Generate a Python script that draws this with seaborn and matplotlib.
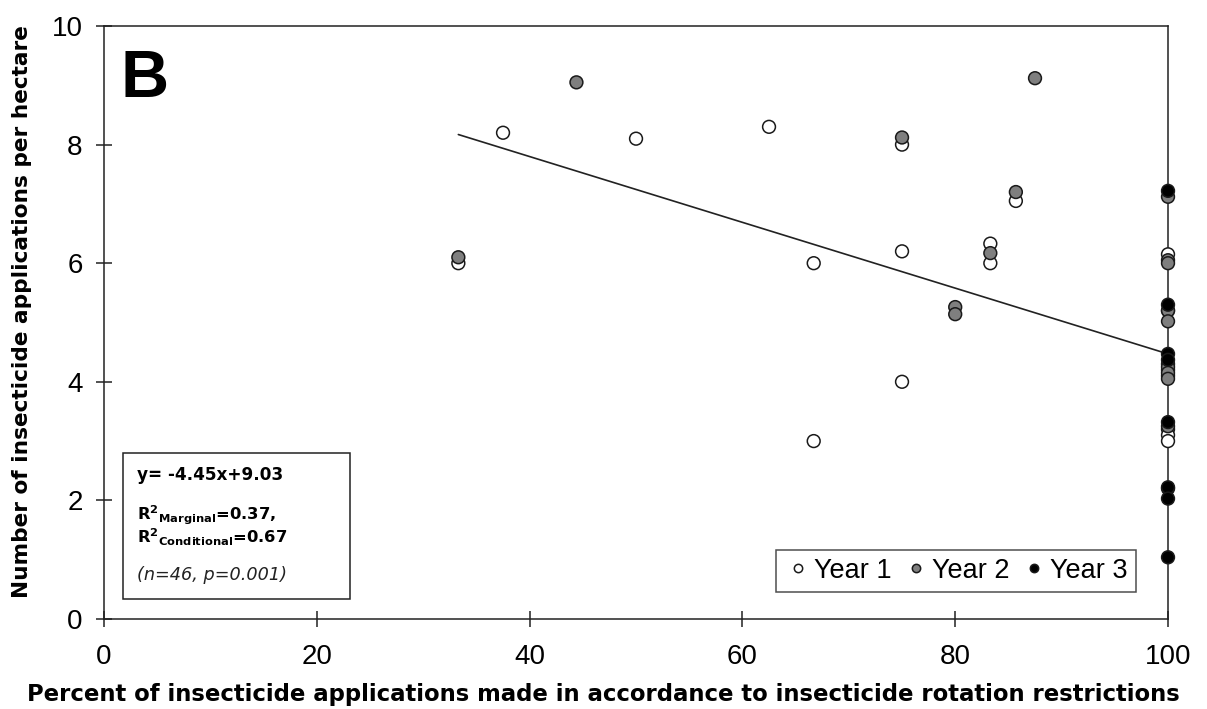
import pandas as pd
import matplotlib.pyplot as plt
import seaborn as sns
from matplotlib.patches import Rectangle

# percent of applications in accordance with rotation restrictions / applications per hectare
year1_x = [33.3, 37.5, 50, 62.5, 66.7, 66.7, 75, 75, 75, 83.3, 83.3, 85.7,
           100, 100, 100, 100, 100, 100, 100, 100]
year1_y = [6.0, 8.2, 8.1, 8.3, 6.0, 3.0, 8.0, 6.2, 4.0, 6.33, 6.0, 7.05,
           6.15, 5.2, 4.3, 4.1, 3.2, 3.1, 3.0, 4.2]
year2_x = [33.3, 44.4, 75, 80, 80, 83.3, 85.7, 87.5,
           100, 100, 100, 100, 100, 100, 100, 100, 100, 100]
year2_y = [6.1, 9.05, 8.12, 5.26, 5.14, 6.17, 7.2, 9.12,
           7.12, 6.05, 5.2, 5.02, 4.25, 4.15, 4.05, 3.25, 2.2, 6.0]
year3_x = [100, 100, 100, 100, 100, 100, 100, 100]
year3_y = [7.22, 5.3, 4.47, 4.37, 3.32, 2.22, 2.03, 1.04]

# fitted line endpoints as drawn
line_x = [33.3, 100]
line_y = [8.17, 4.47]

df = pd.DataFrame({
    "x": year1_x + year2_x + year3_x,
    "y": year1_y + year2_y + year3_y,
    "year": ["Year 1"] * len(year1_x) + ["Year 2"] * len(year2_x) + ["Year 3"] * len(year3_x),
})

sns.set_style("ticks")
plt.rcParams["font.family"] = ["Liberation Sans", "DejaVu Sans"]
plt.rcParams["mathtext.fontset"] = "dejavusans"
plt.rcParams["text.color"] = "black"
plt.rcParams["axes.labelcolor"] = "black"

fig = plt.figure(figsize=(12.07, 7.09), dpi=100)
ax = fig.add_axes([0.0862, 0.127, 0.8815, 0.8363])

palette = {"Year 1": "white", "Year 2": "#7f7f7f", "Year 3": "black"}
sns.scatterplot(data=df, x="x", y="y", hue="year", palette=palette, s=85,
                edgecolor="#1a1a1a", linewidth=1.1, ax=ax, zorder=3)
ax.collections[0].set_clip_on(False)

sns.lineplot(x=line_x, y=line_y, color="#222222", linewidth=1.2, ax=ax, zorder=2)

ax.set_xlim(0, 100)
ax.set_ylim(0, 10)
ax.set_xticks([0, 20, 40, 60, 80, 100])
ax.set_yticks([0, 2, 4, 6, 8, 10])
for s in ax.spines.values():
    s.set_linewidth(1.1)
    s.set_color("#222222")
ax.tick_params(direction="inout", length=12, width=1.1, labelsize=20,
               color="#222222", labelcolor="black")
ax.tick_params(axis="x", pad=12)
ax.tick_params(axis="y", pad=9.5)

lab_font = {"family": "DejaVu Sans", "weight": "bold"}
ax.set_xlabel("Percent of insecticide applications made in accordance to insecticide rotation restrictions",
              fontsize=16.4, fontdict=lab_font)
ax.set_ylabel("Number of insecticide applications per hectare",
              fontsize=15.6, fontdict=lab_font)
ax.xaxis.set_label_coords(0.469, -0.108)
ax.yaxis.set_label_coords(-0.068, 0.519)

ax.text(0.015, 0.88, "B", transform=ax.transAxes, fontsize=48, fontweight="bold",
        va="baseline", ha="left")

# stats box
ax.add_patch(Rectangle((0.018, 0.034), 0.2132, 0.246, transform=ax.transAxes,
                       fill=False, edgecolor="#222222", linewidth=1.1, zorder=4))
ax.text(0.031, 0.234, "y= -4.45x+9.03", transform=ax.transAxes, fontsize=12.2,
        fontdict=lab_font, va="baseline")
ax.text(0.031, 0.167, r"$\mathbf{R^{2}{}_{Marginal}}$=0.37,", transform=ax.transAxes,
        fontsize=11.8, fontdict=lab_font, va="baseline")
ax.text(0.031, 0.128, r"$\mathbf{R^{2}{}_{Conditional}}$=0.67", transform=ax.transAxes,
        fontsize=11.8, fontdict=lab_font, va="baseline")
ax.text(0.031, 0.066, "(n=46, p=0.001)", transform=ax.transAxes, fontsize=12.7,
        family="DejaVu Sans", style="italic", va="baseline", color="#222222")

sns.move_legend(ax, "lower right", bbox_to_anchor=(0.970, 0.0455), ncol=3, title=None,
                frameon=True, fancybox=False, fontsize=19.5, markerscale=0.65,
                handletextpad=0.1, columnspacing=0.4, borderpad=0.3,
                borderaxespad=0, handlelength=1.0)
leg = ax.get_legend()
leg.get_frame().set_edgecolor("#222222")
leg.get_frame().set_linewidth(1.1)

plt.savefig("out.png", dpi=100)
plt.close()
